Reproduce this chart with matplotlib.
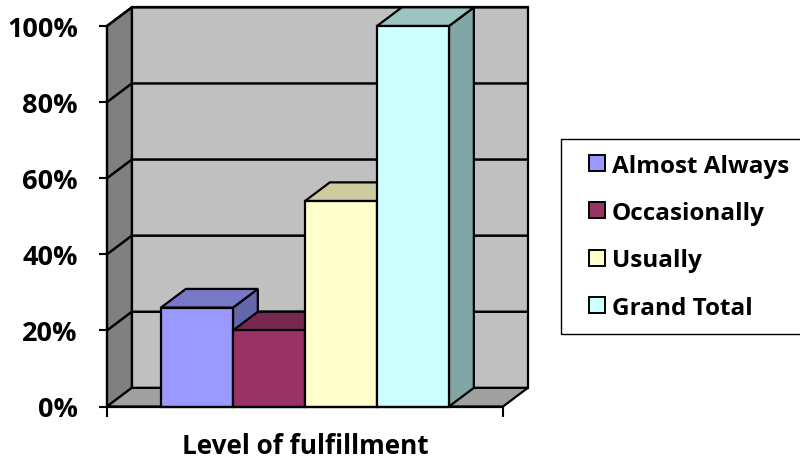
import matplotlib
matplotlib.use("Agg")
import matplotlib.pyplot as plt
from matplotlib.patches import Polygon, Rectangle
from matplotlib.lines import Line2D

plt.rcParams['font.family'] = ['Open Sans', 'DejaVu Sans']
plt.rcParams['font.weight'] = 'bold'

categories = ["Almost Always", "Occasionally", "Usually", "Grand Total"]
values = [26, 20, 54, 100]
front_colors = ["#9999FF", "#993366", "#FFFFCC", "#CCFFFF"]
top_colors = ["#7878C8", "#782850", "#CCCC9E", "#9CC4C2"]
side_colors = ["#6666AA", "#66203F", "#B8B88C", "#80A6A6"]
y_ticks = [0, 20, 40, 60, 80, 100]
y_labels = ["0%", "20%", "40%", "60%", "80%", "100%"]
axis_title = "Level of fulfillment"

W, H = 800, 464
fig = plt.figure(figsize=(W / 100, H / 100), dpi=100)
ax = fig.add_axes([107 / W, (H - 407.5) / H, 396 / W, 380.5 / H])

XMAX = 5.5          # category axis span
DX, DY = 0.345, 4.9  # oblique depth offset (x units, percent units)
EDGE = dict(edgecolor="black", linewidth=1.6, clip_on=False)

ax.set_xlim(0, XMAX)
ax.set_ylim(0, 100)

# walls and floor
ax.add_patch(Polygon([(0, 0), (0, 100), (DX, 100 + DY), (DX, DY)],
                     facecolor="#808080", zorder=1, **EDGE))
ax.add_patch(Rectangle((DX, DY), XMAX, 100, facecolor="#C0C0C0", zorder=1, **EDGE))
ax.add_patch(Polygon([(0, 0), (XMAX, 0), (XMAX + DX, DY), (DX, DY)],
                     facecolor="#A0A0A0", zorder=1, **EDGE))

# gridlines on side and back walls
for v in y_ticks[1:]:
    ax.plot([0, DX, XMAX + DX], [v, v + DY, v + DY], color="black",
            linewidth=1.8, zorder=2, clip_on=False, solid_capstyle="butt")

# 3D columns, painted left to right
for i, (v, fc, tc, sc) in enumerate(zip(values, front_colors, top_colors, side_colors)):
    x0 = 0.75 + i
    x1 = x0 + 1
    z = 3 + i
    ax.add_patch(Polygon([(x1, 0), (x1, v), (x1 + DX, v + DY), (x1 + DX, DY)],
                         facecolor=sc, zorder=z, **EDGE))
    ax.add_patch(Polygon([(x0, v), (x1, v), (x1 + DX, v + DY), (x0 + DX, v + DY)],
                         facecolor=tc, zorder=z, **EDGE))
    ax.add_patch(Rectangle((x0, 0), 1, v, facecolor=fc, zorder=z + 0.5, **EDGE))

# axes
for s in ["top", "right"]:
    ax.spines[s].set_visible(False)
for s in ["left", "bottom"]:
    ax.spines[s].set_linewidth(1.6)
    ax.spines[s].set_zorder(10)
ax.set_facecolor("none")
ax.set_yticks(y_ticks)
ax.set_yticklabels(y_labels, fontsize=19.5, fontweight="bold")
ax.tick_params(axis="y", length=6, width=1.5, pad=15)
ax.set_xticks([0, XMAX])
ax.set_xticklabels(["", ""])
ax.tick_params(axis="x", length=7, width=1.5)
ax.set_xlabel(axis_title, fontsize=18.8, fontweight="bold", labelpad=8)

handles = [Line2D([], [], linestyle="", marker="s", markersize=11.5,
                  markerfacecolor=c, markeredgecolor="black", markeredgewidth=1.4)
           for c in front_colors]
leg = fig.legend(handles, categories, loc="upper left",
                 bbox_to_anchor=(561 / W, 1 - 140 / H), frameon=True, fancybox=False,
                 edgecolor="black", framealpha=1, prop=dict(size=17.5, weight="bold"),
                 handlelength=1.8, handletextpad=-0.3,
                 labelspacing=0.96, borderpad=0.6, borderaxespad=0)
leg.get_frame().set_linewidth(1.0)

fig.savefig("out.png", dpi=100)
